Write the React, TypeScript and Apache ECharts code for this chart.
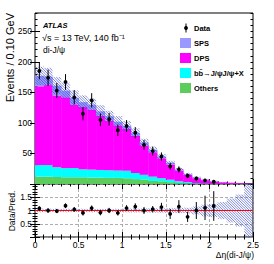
import React, { useEffect, useRef } from "react";
import * as echarts from "echarts";

// ---------------- data ----------------
const BIN_WIDTH = 0.1;
const xTickLabels = ["0", "0.5", "1", "1.5", "2", "2.5"];
const mainYMajor = [0, 50, 100, 150, 200, 250];
const mainYLabels = [50, 100, 150, 200, 250];
const ratioYLabels = [0.5, 1, 1.5];
const others = [12, 12, 11.5, 11, 11, 11, 10.5, 10.5, 10, 10, 9.5, 8, 7.5, 5, 4.5, 3, 1.5, 1, 0.5, 0.3, 0.2, 0.1, 0, 0, 0];
const bbbar = [19, 19, 16, 15, 15, 13, 13, 12.5, 12.5, 12, 12, 10, 7.5, 7, 5, 4, 3, 2, 1, 0.7, 0.4, 0.2, 0, 0, 0];
const dps = [129, 131, 117.5, 116, 104, 102, 98.5, 89, 81.5, 74, 68.5, 61, 48, 40, 32.5, 25, 17.5, 12, 8, 5.3, 3.4, 2.4, 1.8, 1.2, 0.5];
const sps = [17, 14, 16, 11, 11, 8, 8, 7, 7, 6, 5, 5, 5, 4, 3, 3, 2, 1, 1, 0.7, 0.5, 0.3, 0.2, 0.2, 0.1];
const predUnc = [15, 14, 14, 13, 12, 11, 10, 10, 9, 9, 8, 7, 6, 5, 4, 3, 2.5, 2, 1.5, 1, 0.8, 0.6, 0.5, 0.4, 0.3];
const dataVals = [185, 174, 153, 167, 142, 115, 137, 105, 106, 88, 95, 84, 64, 54, 45, 29, 24, 13.5, 9, 6, 3.7];
const dataErr = [13.6, 13.2, 12.4, 12.9, 11.9, 10.7, 11.7, 10.3, 10.3, 9.4, 9.7, 9.2, 8, 7.3, 6.7, 5.4, 4.9, 3.7, 3, 2.4, 1.9];
const ratioVals = [1.08, 1.0, 0.98, 1.18, 1.04, 0.91, 1.09, 0.92, 1.0, 0.91, 1.09, 1.15, 1.0, 1.05, 1.13, 0.87, 1.15, 0.76, 1.0, 1.1, 1.17];
const ratioErr = [0.08, 0.08, 0.08, 0.09, 0.09, 0.1, 0.1, 0.1, 0.1, 0.1, 0.11, 0.12, 0.13, 0.12, 0.16, 0.19, 0.24, 0.19, 0.32, 0.46, 0.56];
const ratioUnc = [0.06, 0.06, 0.06, 0.06, 0.06, 0.06, 0.06, 0.06, 0.06, 0.06, 0.07, 0.07, 0.07, 0.08, 0.08, 0.09, 0.1, 0.1, 0.15, 0.22, 0.25, 0.32, 0.45, 0.6, 1.0];
const refLineValue = 1;

// ---------------- styles ----------------
const FONT = '"Liberation Sans", Arial, Helvetica, sans-serif';
const C_OTHERS = "#5ccc5c";
const C_BB = "#00ffff";
const C_DPS = "#ff00ff";
const C_SPS = "#9999ff";
const C_HATCH = "#3445c8";
const MAIN_MAX = 280;
const GRID_LEFT = 35;
const MAIN_GRID = { left: GRID_LEFT, top: 13, width: 218, height: 171 };
const RATIO_GRID = { left: GRID_LEFT, top: 184, width: 218, height: 53 };

function rectItem(color: string) {
  return (params: any, api: any) => {
    const x0 = api.value(0), x1 = api.value(1), y0 = api.value(2), y1 = api.value(3);
    const a = api.coord([x0, y1]);
    const b = api.coord([x1, y0]);
    return {
      type: "rect",
      shape: { x: a[0], y: a[1], width: b[0] - a[0] + 0.4, height: b[1] - a[1] },
      style: { fill: color },
    };
  };
}

function hatchItem(params: any, api: any) {
  const x0 = api.value(0), x1 = api.value(1), y0 = api.value(2), y1 = api.value(3);
  const a = api.coord([x0, y1]);
  const b = api.coord([x1, y0]);
  const L = a[0], R = b[0], T = a[1], B = b[1];
  const s = 2.6;
  const children: any[] = [];
  const cMin = L - B, cMax = R - T;
  for (let k = Math.ceil(cMin / s); k * s <= cMax; k++) {
    const c = k * s;
    const xa = Math.max(L, T + c);
    const xb = Math.min(R, B + c);
    if (xb > xa) {
      children.push({
        type: "line",
        shape: { x1: xa, y1: xa - c, x2: xb, y2: xb - c },
        style: { stroke: C_HATCH, lineWidth: 0.65 },
      });
    }
  }
  return { type: "group", children };
}

function pointItem(params: any, api: any) {
  const x = api.value(0), v = api.value(1), e = api.value(2);
  const p = api.coord([x, v]);
  const t = api.coord([x, v + e]);
  const bt = api.coord([x, v - e]);
  return {
    type: "group",
    children: [
      { type: "line", shape: { x1: p[0], y1: t[1], x2: p[0], y2: bt[1] }, style: { stroke: "#000", lineWidth: 1 } },
      { type: "circle", shape: { cx: p[0], cy: p[1], r: 1.9 }, style: { fill: "#000" } },
    ],
  };
}

const labelBase = { color: "#000", fontSize: 8.5, fontFamily: FONT, margin: 3 };
const tickLine = { color: "#000", width: 1 };
const dashed = { color: "#999", type: [3, 2], width: 0.8 };

function xAxis(gridIndex: number, position: string, showLabel: boolean, split: boolean) {
  return {
    type: "value",
    gridIndex,
    position,
    min: 0,
    max: 2.5,
    interval: 0.5,
    axisLine: { show: false },
    axisTick: { show: true, inside: true, length: 5, lineStyle: tickLine },
    minorTick: { show: true, splitNumber: 5, length: 2.5, lineStyle: tickLine },
    axisLabel: {
      show: showLabel,
      ...labelBase,
      formatter: (v: number) => xTickLabels[Math.round(v / 0.5)] ?? "",
    },
    splitLine: { show: split, lineStyle: dashed },
    minorSplitLine: { show: false },
  };
}

function mainYMajorAxis(position: string) {
  return {
    type: "value",
    gridIndex: 0,
    position,
    min: 0,
    max: MAIN_MAX,
    interval: 10,
    axisLine: { show: false },
    axisTick: { show: true, inside: true, length: 5, lineStyle: tickLine, customValues: mainYMajor },
    minorTick: { show: false },
    axisLabel: { show: false },
    splitLine: { show: false },
  };
}
function mainYMinorAxis(position: string) {
  return {
    type: "value",
    gridIndex: 0,
    position,
    min: 0,
    max: MAIN_MAX,
    interval: 10,
    axisLine: { show: false },
    axisTick: { show: true, inside: true, length: 2.5, lineStyle: tickLine },
    minorTick: { show: false },
    axisLabel: { show: false },
    splitLine: { show: false },
  };
}

function ratioYAxis(position: string, showLabel: boolean, split: boolean) {
  return {
    type: "value",
    gridIndex: 1,
    position,
    min: 0,
    max: 2,
    interval: 0.5,
    axisLine: { show: false },
    axisTick: { show: true, inside: true, length: 5, lineStyle: tickLine },
    minorTick: { show: true, splitNumber: 5, length: 2.5, lineStyle: tickLine },
    axisLabel: { show: showLabel, ...labelBase, customValues: ratioYLabels },
    splitLine: { show: split, lineStyle: dashed },
    minorSplitLine: { show: false },
  };
}

export default function App() {
  const ref = useRef<HTMLDivElement>(null);

  useEffect(() => {
    if (!ref.current) return;
    const chart = echarts.init(ref.current, undefined, { renderer: "svg" });

    const nBins = dps.length;
    const cum = new Array(nBins).fill(0);
    const comps = [
      { values: others, color: C_OTHERS },
      { values: bbbar, color: C_BB },
      { values: dps, color: C_DPS },
      { values: sps, color: C_SPS },
    ];
    const stackSeries = comps.map((c) => {
      const data = c.values.map((v, i) => {
        const lo = cum[i];
        cum[i] += v;
        return [i * BIN_WIDTH, (i + 1) * BIN_WIDTH, lo, cum[i]];
      });
      return {
        type: "custom",
        xAxisIndex: 0,
        yAxisIndex: 0,
        renderItem: rectItem(c.color),
        data,
        clip: true,
        silent: true,
      };
    });
    const bandData = cum.map((t, i) => [i * BIN_WIDTH, (i + 1) * BIN_WIDTH, t - predUnc[i], t + predUnc[i]]);
    const ratioBandData = ratioUnc.map((u, i) => [
      i * BIN_WIDTH,
      (i + 1) * BIN_WIDTH,
      Math.max(0, refLineValue - u),
      Math.min(2, refLineValue + u),
    ]);
    const pointsData = dataVals.map((v, i) => [(i + 0.5) * BIN_WIDTH, v, dataErr[i]]);
    const ratioData = ratioVals.map((v, i) => [(i + 0.5) * BIN_WIDTH, v, ratioErr[i]]);

    const legendX = 180;
    const legendTextX = 194;
    const legendRows = [
      { label: "SPS", color: C_SPS, y: 43 },
      { label: "DPS", color: C_DPS, y: 58 },
      { label: "b\u0062\u0304\u2192J/\u03c8J/\u03c8+X", color: C_BB, y: 73 },
      { label: "Others", color: C_OTHERS, y: 88 },
    ];
    const legendFont = { fontSize: 7.5, fontFamily: FONT, fontWeight: "bold" as const };

    const graphic: any[] = [
      { type: "line", shape: { x1: 186, y1: 23.5, x2: 186, y2: 32.5 }, style: { stroke: "#000", lineWidth: 1 } },
      { type: "circle", shape: { cx: 186, cy: 28, r: 1.9 }, style: { fill: "#000" } },
      { type: "text", x: legendTextX, y: 28, style: { text: "Data", fill: "#000", align: "left", verticalAlign: "middle", ...legendFont } },
      ...legendRows.flatMap((r) => [
        { type: "rect", shape: { x: legendX, y: r.y - 5, width: 11, height: 10 }, style: { fill: r.color } },
        { type: "text", x: legendTextX, y: r.y, style: { text: r.label, fill: "#000", align: "left", verticalAlign: "middle", ...legendFont } },
      ]),
      { type: "text", x: 43, y: 25, style: { text: "ATLAS", fill: "#000", fontSize: 7.5, fontWeight: "bold", fontStyle: "italic", fontFamily: FONT, align: "left", verticalAlign: "middle" } },
      { type: "text", x: 42, y: 37.5, style: { text: "\u221as = 13 TeV, 140 fb\u207b\u00b9", fill: "#000", fontSize: 9, fontFamily: FONT, align: "left", verticalAlign: "middle" } },
      { type: "text", x: 43, y: 50, style: { text: "di-J/\u03c8", fill: "#000", fontSize: 8.5, fontFamily: FONT, align: "left", verticalAlign: "middle" } },
      { type: "text", x: 9.5, y: 13, rotation: Math.PI / 2, style: { text: "Events / 0.10 GeV", fill: "#000", fontSize: 11, fontFamily: FONT, align: "right", verticalAlign: "middle" } },
      { type: "text", x: 12, y: 211, rotation: Math.PI / 2, style: { text: "Data/Pred.", fill: "#000", fontSize: 8.5, fontFamily: FONT, align: "center", verticalAlign: "middle" } },
      { type: "text", x: 254, y: 255, style: { text: "\u0394\u03b7(di-J/\u03c8)", fill: "#000", fontSize: 8.5, fontFamily: FONT, align: "right", verticalAlign: "middle" } },
    ];

    chart.setOption({
      animation: false,
      grid: [
        { ...MAIN_GRID, show: true, borderColor: "#000", borderWidth: 1, backgroundColor: "transparent" },
        { ...RATIO_GRID, show: true, borderColor: "#000", borderWidth: 1, backgroundColor: "transparent" },
        // overlay grid carrying only the tick labels of the main pad
        { ...MAIN_GRID, show: false },
      ],
      xAxis: [
        xAxis(0, "bottom", false, false),
        xAxis(0, "top", false, false),
        xAxis(1, "bottom", true, true),
        xAxis(1, "top", false, false),
        { type: "value", gridIndex: 2, min: 0, max: 2.5, show: false },
      ],
      yAxis: [
        mainYMajorAxis("left"),
        mainYMajorAxis("right"),
        ratioYAxis("left", true, true),
        ratioYAxis("right", false, false),
        mainYMinorAxis("left"),
        mainYMinorAxis("right"),
        {
          type: "value",
          gridIndex: 2,
          position: "left",
          min: 0,
          max: MAIN_MAX,
          interval: 10,
          z: 50,
          axisLine: { show: false },
          axisTick: { show: false },
          minorTick: { show: false },
          splitLine: { show: false },
          axisLabel: { show: true, ...labelBase, customValues: mainYLabels, hideOverlap: false },
        },
      ],
      graphic,
      series: [
        ...stackSeries,
        { type: "custom", xAxisIndex: 0, yAxisIndex: 0, renderItem: hatchItem, data: bandData, clip: true, silent: true },
        { type: "custom", xAxisIndex: 0, yAxisIndex: 0, renderItem: pointItem, data: pointsData, clip: true, silent: true, z: 5 },
        { type: "custom", xAxisIndex: 2, yAxisIndex: 2, renderItem: hatchItem, data: ratioBandData, clip: true, silent: true },
        {
          type: "line",
          xAxisIndex: 2,
          yAxisIndex: 2,
          data: [[0, refLineValue], [2.5, refLineValue]],
          symbol: "none",
          lineStyle: { color: "#ff0000", width: 1 },
          silent: true,
        },
        { type: "custom", xAxisIndex: 2, yAxisIndex: 2, renderItem: pointItem, data: ratioData, clip: true, silent: true, z: 5 },
        { type: "line", xAxisIndex: 4, yAxisIndex: 6, data: [], silent: true },
      ],
    });

    return () => chart.dispose();
  }, []);

  return <div ref={ref} style={{ position: "absolute", left: 0, top: 0, width: 274, height: 264 }} />;
}
